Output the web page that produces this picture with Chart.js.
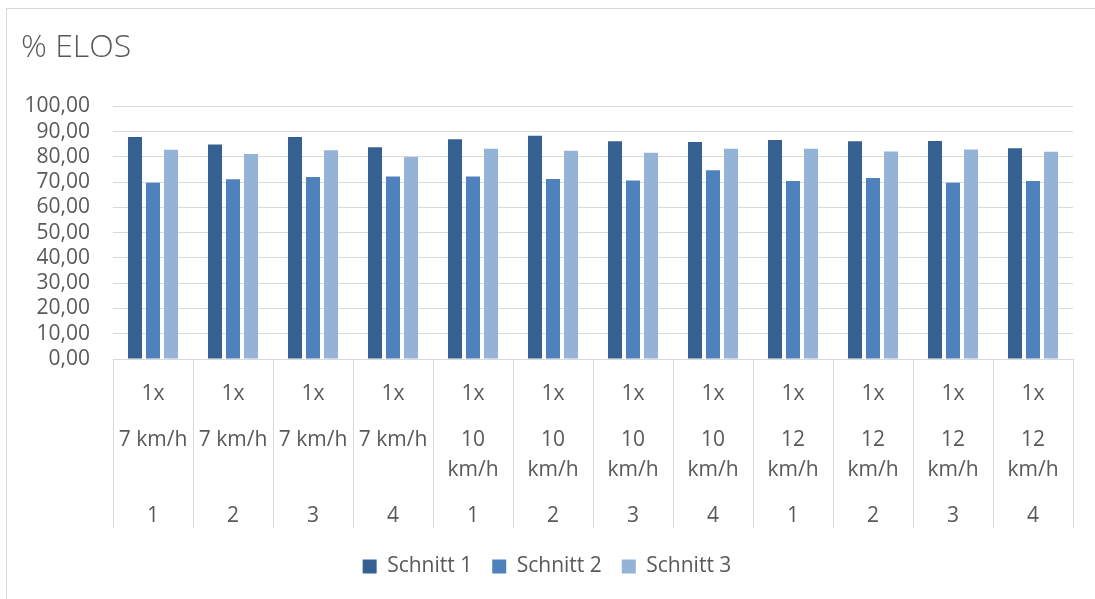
<!DOCTYPE html>
<html>
<head>
<meta charset="utf-8">
<script src="https://cdn.jsdelivr.net/npm/chart.js@4.4.1/dist/chart.umd.min.js"></script>
<style>
  html, body { margin: 0; padding: 0; background: #ffffff; overflow: hidden; }
  #frame { position: absolute; left: 6px; top: 8px; width: 1300px; height: 800px;
           border-top: 1px solid #d9d9d9; border-left: 1px solid #d9d9d9; }
  #wrap { position: absolute; left: 0; top: 0; width: 1095px; height: 599px; }
</style>
</head>
<body>
<div id="frame"></div>
<div id="wrap"><canvas id="c"></canvas></div>
<script>
// ---- data ----
const level1Labels = ['1x','1x','1x','1x','1x','1x','1x','1x','1x','1x','1x','1x'];
const speedLabels = ['7 km/h','7 km/h','7 km/h','7 km/h',
  ['10','km/h'],['10','km/h'],['10','km/h'],['10','km/h'],
  ['12','km/h'],['12','km/h'],['12','km/h'],['12','km/h']];
const runLabels = ['1','2','3','4','1','2','3','4','1','2','3','4'];
const seriesNames = ['Schnitt 1','Schnitt 2','Schnitt 3'];
const schnitt1 = [87.9, 84.9, 87.9, 83.8, 87.0, 88.4, 86.2, 85.9, 86.7, 86.2, 86.3, 83.4];
const schnitt2 = [69.8, 71.2, 72.1, 72.2, 72.2, 71.3, 70.7, 74.7, 70.5, 71.7, 69.8, 70.5];
const schnitt3 = [82.8, 81.2, 82.6, 80.0, 83.2, 82.4, 81.7, 83.2, 83.2, 82.1, 82.9, 82.0];
const titleText = '% ELOS';

const colors = ['#376092', '#4f81bd', '#95b3d7'];
const gridColor = '#d9d9d9';
const textColor = '#595959';
const fontFam = "'Open Sans', 'Liberation Sans', sans-serif";
const tickSize = 21;

const rowCommon = (labels, weight, height, tickLen, pad, lineHeight, borderOn) => ({
  type: 'category',
  position: 'bottom',
  labels: labels,
  offset: true,
  weight: weight,
  grid: { offset: true, drawOnChartArea: false, drawTicks: true, tickLength: tickLen, color: gridColor, lineWidth: 1 },
  border: { display: borderOn, color: gridColor, width: 1 },
  ticks: { autoSkip: false, maxRotation: 0, minRotation: 0, padding: pad, color: textColor,
           font: { family: fontFam, size: tickSize, lineHeight: lineHeight } },
  afterFit: (s) => { s.height = height; }
});

new Chart(document.getElementById('c'), {
  type: 'bar',
  data: {
    labels: runLabels,
    datasets: [
      { label: seriesNames[0], data: schnitt1, backgroundColor: colors[0], xAxisID: 'x', yAxisID: 'y' },
      { label: seriesNames[1], data: schnitt2, backgroundColor: colors[1], xAxisID: 'x', yAxisID: 'y' },
      { label: seriesNames[2], data: schnitt3, backgroundColor: colors[2], xAxisID: 'x', yAxisID: 'y' }
    ]
  },
  options: {
    responsive: true,
    maintainAspectRatio: false,
    animation: false,
    categoryPercentage: 0.675,
    barPercentage: 0.78,
    layout: { padding: { left: 21, right: 22, top: 29, bottom: 12 } },
    plugins: {
      tooltip: { enabled: false },
      title: {
        display: true, text: titleText, align: 'start', color: textColor,
        font: { family: fontFam, size: 32, weight: '300', lineHeight: 1.2 },
        padding: { top: 0, bottom: 39 }
      },
      legend: {
        position: 'bottom',
        labels: { boxWidth: 14, boxHeight: 14, padding: 20, color: textColor,
                  font: { family: fontFam, size: tickSize } }
      }
    },
    scales: {
      y: {
        min: 0, max: 100,
        ticks: { stepSize: 10, autoSkip: false, padding: 23, color: textColor,
                 font: { family: fontFam, size: tickSize },
                 callback: (v) => Number(v).toFixed(2).replace('.', ',') },
        grid: { color: gridColor, lineWidth: 1, drawTicks: false },
        border: { display: false },
        afterFit: (s) => { s.width = 92; }
      },
      x: rowCommon(level1Labels, 0, 47, 47, -24.6, 1.2, true),
      x2: rowCommon(speedLabels, 1, 76, 76, -56.2, 1.4, false),
      x3: rowCommon(runLabels, 2, 54, 46, -24.6, 1.2, false)
    }
  }
});
</script>
</body>
</html>
